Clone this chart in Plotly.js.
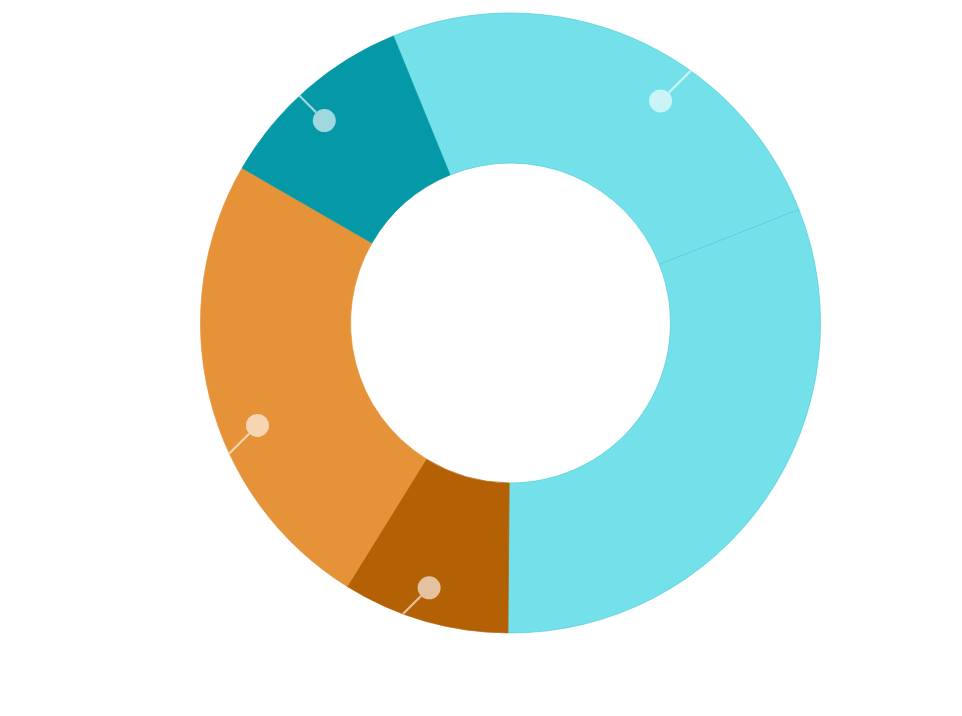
<!DOCTYPE html>
<html>
<head>
<meta charset="utf-8">
<script src="https://cdn.plot.ly/plotly-3.0.1.min.js"></script>
<style>html,body{margin:0;padding:0;background:#fff}#chart{width:962px;height:716px}</style>
</head>
<body>
<div id="chart"></div>
<script>
// Data (share of the ring, in percent)
const labels = ['A', 'B', 'C', 'D', 'E'];
const values = [25.2, 31.1, 8.7, 24.5, 10.5];
const colors = ['#74e1ea', '#74e1ea', '#b46004', '#e69238', '#0599a8'];
const edgeColors = ['#52cdd8', '#52cdd8', '#b46004', '#e69238', '#0599a8'];

// Callout markers: slice index and position along that slice (fraction of its arc)
const markerSlice = [0, 4, 3, 2];
const markerFrac = [0.62, 0.46, 0.41, 0.53];

const W = 962, H = 716;
const startAngle = 337.8;      // first slice starts here (deg clockwise from 12 o'clock)
const cx = 510.5, cy = 323, R = 310, holeFrac = 0.516;
const markerRadius = [268, 275, 273, 277];
const dotR = 11.5;
const dom = {
  x: [(cx - R) / W, (cx + R) / W],
  y: [(H - (cy + R)) / H, (H - (cy - R)) / H]
};

const trace = {
  type: 'pie',
  labels: labels,
  values: values,
  sort: false,
  direction: 'clockwise',
  rotation: startAngle - 360,
  hole: holeFrac,
  textinfo: 'none',
  hoverinfo: 'none',
  showlegend: false,
  domain: dom,
  marker: { colors: colors, line: { color: edgeColors, width: 0.7 } }
};

// Build callout shapes from slice angles
const total = values.reduce((a, b) => a + b, 0);
const starts = [];
let acc = startAngle;
values.forEach(v => { starts.push(acc); acc += v / total * 360; });
const shapes = [];
const fill = 'rgba(255,255,255,0.62)';
markerSlice.forEach((si, k) => {
  const ang = (starts[si] + markerFrac[k] * values[si] / total * 360) * Math.PI / 180;
  const mr = markerRadius[k];
  const px = cx + mr * Math.sin(ang);
  const py = cy - mr * Math.cos(ang);
  const dx = px - cx, dy = py - cy;
  const ux = Math.sign(dx) / Math.SQRT2, uy = Math.sign(dy) / Math.SQRT2;
  // solve |P + t u| = R for t > 0
  const b = dx * ux + dy * uy;
  const c = dx * dx + dy * dy - R * R;
  const t = -b + Math.sqrt(b * b - c);
  const ex = px + t * ux, ey = py + t * uy;
  shapes.push({
    type: 'line', xref: 'paper', yref: 'paper',
    x0: (px + ux * dotR) / W, y0: 1 - (py + uy * dotR) / H, x1: ex / W, y1: 1 - ey / H,
    line: { color: fill, width: 2.2 }
  });
  shapes.push({
    type: 'circle', xref: 'paper', yref: 'paper',
    x0: (px - dotR) / W, x1: (px + dotR) / W,
    y0: 1 - (py + dotR) / H, y1: 1 - (py - dotR) / H,
    fillcolor: fill, line: { width: 0 }
  });
});

const layout = {
  width: W, height: H,
  margin: { l: 0, r: 0, t: 0, b: 0 },
  paper_bgcolor: '#ffffff',
  plot_bgcolor: '#ffffff',
  showlegend: false,
  shapes: shapes
};

Plotly.newPlot('chart', [trace], layout, { displayModeBar: false, staticPlot: true });
</script>
</body>
</html>
